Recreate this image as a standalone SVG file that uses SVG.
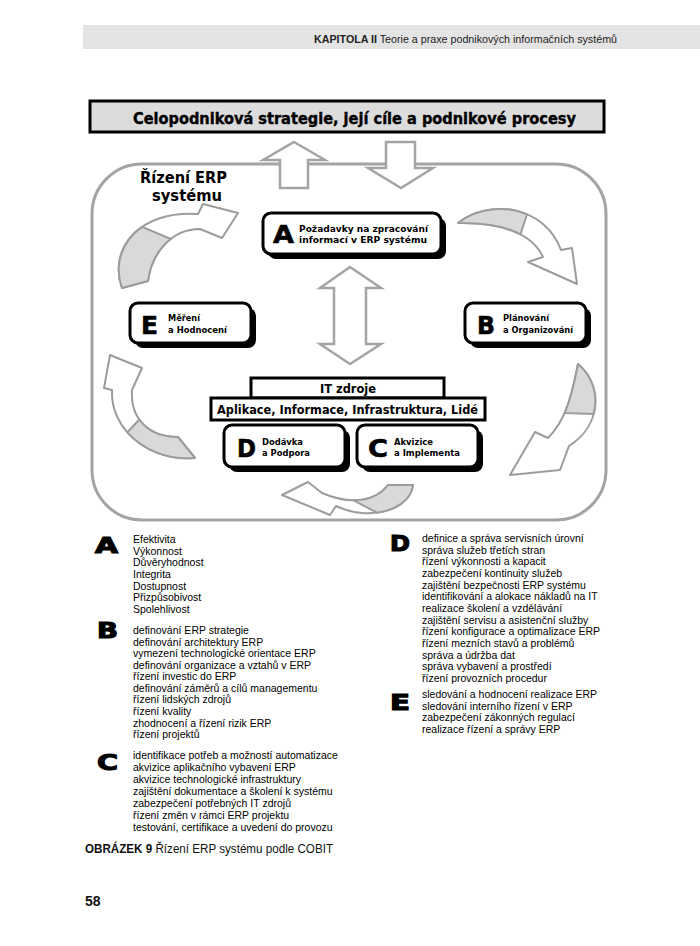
<svg xmlns="http://www.w3.org/2000/svg" width="700" height="946" viewBox="0 0 700 946">
<style>
.bg{fill:#fff}
.band{fill:#e4e4e4}
.hdr{font-family:"Liberation Sans",Arial,sans-serif;font-size:11px;fill:#222}
.frame{fill:none;stroke:#a4a4a4;stroke-width:3}
.hollow{fill:#fff;stroke:#a4a4a4;stroke-width:2.5;stroke-linejoin:miter}
.arrw{fill:#fff;stroke:#9c9c9c;stroke-width:2;stroke-linejoin:round}
.curved{fill:#d9d9d9;stroke:#9c9c9c;stroke-width:2;stroke-linejoin:round}
.shadow{fill:#000}
.box{fill:#fff;stroke:#000;stroke-width:3}
.big{font-family:"DejaVu Sans",sans-serif;font-weight:bold;font-size:25px;fill:#000;stroke:#000;stroke-width:0.6}
.lbl{font-family:"DejaVu Sans",sans-serif;font-weight:bold;font-size:9px;fill:#000}
.bar{font-family:"DejaVu Sans",sans-serif;font-weight:bold;font-size:12px;fill:#000}
.leg{font-family:"Liberation Sans",Arial,sans-serif;font-size:10.5px;fill:#000}
.legl{font-family:"DejaVu Sans",sans-serif;font-weight:bold;font-size:22px;fill:#000;stroke:#000;stroke-width:1.2}
</style>
<rect class="bg" x="0" y="0" width="700" height="946"/>
<g id="header">
<rect class="band" x="83" y="25" width="617" height="24"/>
<text class="hdr" x="314" y="43" textLength="303" lengthAdjust="spacingAndGlyphs"><tspan font-weight="bold">KAPITOLA II</tspan> Teorie a praxe podnikových informačních systémů</text>
</g>
<g id="strategy">
<rect x="90" y="101" width="514" height="31" fill="#dcdcdc" stroke="#000" stroke-width="3"/>
<text x="133" y="124" font-family="DejaVu Sans,sans-serif" font-weight="bold" font-size="15" textLength="443" lengthAdjust="spacingAndGlyphs" stroke="#000" stroke-width="0.4">Celopodniková strategie, její cíle a podnikové procesy</text>
</g>
<g id="frame">
<rect class="frame" x="92" y="164" width="514" height="356" rx="50"/>
<text x="140" y="183" font-family="DejaVu Sans,sans-serif" font-weight="bold" font-size="16" textLength="87" lengthAdjust="spacingAndGlyphs">Řízení ERP</text>
<text x="152" y="201" font-family="DejaVu Sans,sans-serif" font-weight="bold" font-size="16" textLength="70" lengthAdjust="spacingAndGlyphs">systému</text>
</g>
<g id="connectors">
<polygon class="hollow" points="294,142 325,160 308,160 308,188 280,188 280,160 263,160"/>
<polygon class="hollow" points="386,142 415,142 415,168 433,168 401,188 368,168 386,168"/>
<polygon class="hollow" points="350,267 381,288 366,288 366,344 381,344 350,364 320,344 334,344 334,288 320,288"/>
<path class="arrw" d="M122 288 C108 248 140 210 198 214 L203 204 L238 213 L222 238 L200 229 C172 229 152 252 148 281 Z"/>
<path class="curved" d="M122 288 C113.6 264 121.8 240.7 142.2 226.8 L170.8 239 C158.6 248.4 150.4 263.6 148 281 Z"/>
<path class="arrw" d="M458 223 C490 198 545 206 561 250 L572 248 L577 284 L528 262 L543 257 C532 233 500 222 458 223 Z"/>
<path class="curved" d="M458 223 C477.2 208 504.7 204.9 527.1 214.3 L520.4 234.4 C504.8 226.1 483.2 222.4 458 223 Z"/>
<path class="arrw" d="M578 364 C603 385 602 425 569 446 L560 470 L510 475 L535 432 L548 438 C566 420 572 395 578 364 Z"/>
<path class="curved" d="M578 364 C593 376.6 598.6 396 593.6 414.1 L564.6 413.1 C570.8 399 574.4 382.6 578 364 Z"/>
<path class="arrw" d="M413 485 C410 510 370 522 336 506 L330 515 L282 495 L308 482 L322 493 C350 505 375 502 388 485 Z"/>
<path class="curved" d="M413 485 C411.2 500 396.1 510.3 377 512.7 L353.6 500.3 C368.1 500.4 380.2 495.2 388 485 Z"/>
<path class="arrw" d="M195 458 C150 462 110 430 112 390 L104 388 L110 355 L142 368 L132 390 C130 420 150 437 178 437 Z"/>
<path class="curved" d="M195 458 C168 460.4 142.8 449.8 127.4 432.3 L139.3 419.5 C147.3 430.9 161.2 437 178 437 Z"/>
</g>
<g id="nodeA">
<rect class="shadow" x="268" y="218" width="178" height="41" rx="8"/>
<rect class="box" x="263" y="213" width="178" height="41" rx="8"/>
<text class="big" x="273" y="243" textLength="21" lengthAdjust="spacingAndGlyphs">A</text>
<text class="lbl" x="299" y="232" textLength="129" lengthAdjust="spacingAndGlyphs">Požadavky na zpracování</text>
<text class="lbl" x="299" y="243" textLength="128" lengthAdjust="spacingAndGlyphs">informací v ERP systému</text>
</g>
<g id="nodeE">
<rect class="shadow" x="135" y="308" width="121" height="40" rx="8"/>
<rect class="box" x="130" y="303" width="121" height="40" rx="8"/>
<text class="big" x="141" y="334" font-size="26" textLength="17" lengthAdjust="spacingAndGlyphs">E</text>
<text class="lbl" x="168" y="321" textLength="32" lengthAdjust="spacingAndGlyphs">Měření</text>
<text class="lbl" x="168" y="333" textLength="59" lengthAdjust="spacingAndGlyphs">a Hodnocení</text>
</g>
<g id="nodeB">
<rect class="shadow" x="470" y="308" width="121" height="40" rx="8"/>
<rect class="box" x="465" y="303" width="121" height="40" rx="8"/>
<text class="big" x="477" y="334" font-size="26" textLength="18" lengthAdjust="spacingAndGlyphs">B</text>
<text class="lbl" x="503" y="321" textLength="46" lengthAdjust="spacingAndGlyphs">Plánování</text>
<text class="lbl" x="503" y="333" textLength="70" lengthAdjust="spacingAndGlyphs">a Organizování</text>
</g>
<g id="itzdroje">
<rect class="box" x="251" y="378" width="193" height="20"/>
<text class="bar" x="320" y="393" textLength="56" lengthAdjust="spacingAndGlyphs">IT zdroje</text>
<rect class="box" x="211" y="398" width="274" height="22"/>
<text class="bar" x="217" y="414" textLength="261" lengthAdjust="spacingAndGlyphs">Aplikace, Informace, Infrastruktura, Lidé</text>
</g>
<g id="nodeD">
<rect class="shadow" x="229" y="430" width="121" height="42" rx="8"/>
<rect class="box" x="224" y="425" width="121" height="42" rx="8"/>
<text class="big" x="237" y="457" font-size="26" textLength="19" lengthAdjust="spacingAndGlyphs">D</text>
<text class="lbl" x="262" y="445" textLength="41" lengthAdjust="spacingAndGlyphs">Dodávka</text>
<text class="lbl" x="262" y="456" textLength="48" lengthAdjust="spacingAndGlyphs">a Podpora</text>
</g>
<g id="nodeC">
<rect class="shadow" x="362" y="430" width="121" height="42" rx="8"/>
<rect class="box" x="357" y="425" width="121" height="42" rx="8"/>
<text class="big" x="368" y="457" font-size="26" textLength="20" lengthAdjust="spacingAndGlyphs">C</text>
<text class="lbl" x="394" y="445" textLength="39" lengthAdjust="spacingAndGlyphs">Akvizice</text>
<text class="lbl" x="394" y="456" textLength="66" lengthAdjust="spacingAndGlyphs">a Implementa</text>
</g>
<g id="legendA">
<text class="legl" x="95" y="553" textLength="23" lengthAdjust="spacingAndGlyphs">A</text>
<text class="leg"><tspan x="133" y="543">Efektivita</tspan><tspan x="133" y="554.7">Výkonnost</tspan><tspan x="133" y="566.3">Důvěryhodnost</tspan><tspan x="133" y="578">Integrita</tspan><tspan x="133" y="589.7">Dostupnost</tspan><tspan x="133" y="601.3">Přizpůsobivost</tspan><tspan x="133" y="613">Spolehlivost</tspan></text>
</g>
<g id="legendB">
<text class="legl" x="97" y="638" textLength="21" lengthAdjust="spacingAndGlyphs">B</text>
<text class="leg"><tspan x="133" y="634">definování ERP strategie</tspan><tspan x="133" y="645.6">definování architektury ERP</tspan><tspan x="133" y="657.1">vymezení technologické orientace ERP</tspan><tspan x="133" y="668.7">definování organizace a vztahů v ERP</tspan><tspan x="133" y="680.2">řízení investic do ERP</tspan><tspan x="133" y="691.8">definování záměrů a cílů managementu</tspan><tspan x="133" y="703.4">řízení lidských zdrojů</tspan><tspan x="133" y="714.9">řízení kvality</tspan><tspan x="133" y="726.5">zhodnocení a řízení rizik ERP</tspan><tspan x="133" y="738">řízení projektů</tspan></text>
</g>
<g id="legendC">
<text class="legl" x="97" y="770" textLength="21" lengthAdjust="spacingAndGlyphs">C</text>
<text class="leg"><tspan x="133" y="759">identifikace potřeb a možností automatizace</tspan><tspan x="133" y="771">akvizice aplikačního vybavení ERP</tspan><tspan x="133" y="783">akvizice technologické infrastruktury</tspan><tspan x="133" y="795">zajištění dokumentace a školení k systému</tspan><tspan x="133" y="807">zabezpečení potřebných IT zdrojů</tspan><tspan x="133" y="819">řízení změn v rámci ERP projektu</tspan><tspan x="133" y="831">testování, certifikace a uvedení do provozu</tspan></text>
</g>
<g id="legendD">
<text class="legl" x="390" y="551" textLength="20" lengthAdjust="spacingAndGlyphs">D</text>
<text class="leg"><tspan x="422" y="542">definice a správa servisních úrovní</tspan><tspan x="422" y="553.7">správa služeb třetích stran</tspan><tspan x="422" y="565.3">řízení výkonnosti a kapacit</tspan><tspan x="422" y="577">zabezpečení kontinuity služeb</tspan><tspan x="422" y="588.7">zajištění bezpečnosti ERP systému</tspan><tspan x="422" y="600.3">identifikování a alokace nákladů na IT</tspan><tspan x="422" y="612">realizace školení a vzdělávání</tspan><tspan x="422" y="623.7">zajištění servisu a asistenční služby</tspan><tspan x="422" y="635.3">řízení konfigurace a optimalizace ERP</tspan><tspan x="422" y="647">řízení mezních stavů a problémů</tspan><tspan x="422" y="658.7">správa a údržba dat</tspan><tspan x="422" y="670.3">správa vybavení a prostředí</tspan><tspan x="422" y="682">řízení provozních procedur</tspan></text>
</g>
<g id="legendE">
<text class="legl" x="390" y="710" textLength="20" lengthAdjust="spacingAndGlyphs">E</text>
<text class="leg"><tspan x="422" y="698">sledování a hodnocení realizace ERP</tspan><tspan x="422" y="709.7">sledování interního řízení v ERP</tspan><tspan x="422" y="721.3">zabezpečení zákonných regulací</tspan><tspan x="422" y="733">realizace řízení a správy ERP</tspan></text>
</g>
<g id="caption">
<text x="85" y="853" font-family="Liberation Sans,Arial,sans-serif" font-size="12.5" fill="#111" textLength="248" lengthAdjust="spacingAndGlyphs"><tspan font-weight="bold">OBRÁZEK 9</tspan> Řízení ERP systému podle COBIT</text>
<text x="85" y="906" font-family="Liberation Sans,Arial,sans-serif" font-size="14" font-weight="bold" fill="#111">58</text>
</g>
</svg>
